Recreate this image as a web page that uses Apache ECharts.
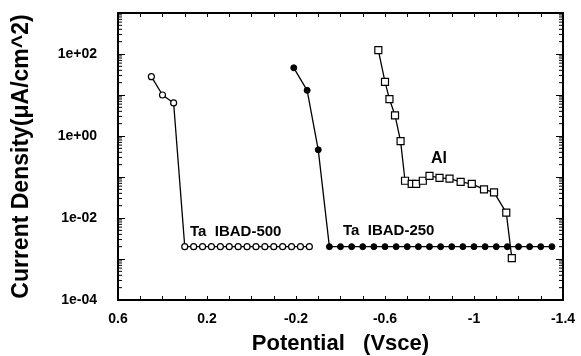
<!DOCTYPE html>
<html>
<head>
<meta charset="utf-8">
<script src="https://cdn.jsdelivr.net/npm/echarts@6/dist/echarts.min.js"></script>
<style>
  html, body { margin: 0; padding: 0; background: #fff; }
  #chart { width: 581px; height: 356px; }
</style>
</head>
<body>
<div id="chart"></div>
<script>
// Ta IBAD-500 (open circles)
var ta500Potential = [0.45, 0.40, 0.35, 0.30, 0.26, 0.22, 0.18, 0.14, 0.10, 0.06, 0.02, -0.02, -0.06, -0.10, -0.14, -0.18, -0.22, -0.26]
var ta500Current = [28, 10, 6.4, 0.002, 0.002, 0.002, 0.002, 0.002, 0.002, 0.002, 0.002, 0.002, 0.002, 0.002, 0.002, 0.002, 0.002, 0.002]

// Ta IBAD-250 (filled circles)
var ta250Potential = [-0.19, -0.25, -0.30, -0.35, -0.40, -0.45, -0.50, -0.55, -0.60, -0.65, -0.70, -0.75, -0.80, -0.85, -0.90, -0.95, -1.00, -1.05, -1.10, -1.15, -1.20, -1.25, -1.30, -1.35]
var ta250Current = [46, 13, 0.46, 0.002, 0.002, 0.002, 0.002, 0.002, 0.002, 0.002, 0.002, 0.002, 0.002, 0.002, 0.002, 0.002, 0.002, 0.002, 0.002, 0.002, 0.002, 0.002, 0.002, 0.002]

// Al (open squares)
var alPotential = [-0.57, -0.60, -0.62, -0.645, -0.67, -0.69, -0.72, -0.74, -0.77, -0.80, -0.845, -0.89, -0.94, -0.99, -1.045, -1.09, -1.145, -1.17]
var alCurrent = [125, 21, 7.9, 3.2, 0.75, 0.081, 0.068, 0.068, 0.081, 0.106, 0.095, 0.091, 0.076, 0.068, 0.050, 0.042, 0.0135, 0.00105]

// log axis minor tick positions (2..9 in each decade)
var minorMultipliers = [2, 3, 4, 5, 6, 7, 8, 9]
var decades = [1e-4, 1e-3, 1e-2, 1e-1, 1, 10, 100]

var FONT = '"Liberation Sans", Arial, Helvetica, sans-serif'

function pairs(xs, ys) {
  return xs.map(function (x, i) { return [x, ys[i]] })
}

var minorTicks = []
decades.forEach(function (d) {
  minorMultipliers.forEach(function (m) { minorTicks.push([0.6, d * m]) })
})

function yLabel(v) {
  var e = Math.round(Math.log10(v))
  if (e % 2 !== 0) return ''
  var a = Math.abs(e)
  return '1e' + (e < 0 ? '-' : '+') + (a < 10 ? '0' : '') + a
}

function xLabel(v) {
  var k = Math.round(v * 10)
  return (((k % 4) + 4) % 4 === 2) ? String(+v.toFixed(1)) : ''
}

var axisLineStyle = { show: true, onZero: false, lineStyle: { color: '#000', width: 2 } }

var xBase = {
  type: 'value',
  min: -1.4,
  max: 0.6,
  interval: 0.1,
  inverse: true,
  axisLine: axisLineStyle,
  axisTick: { show: true, inside: true, length: 4, lineStyle: { color: '#000', width: 1 } },
  splitLine: { show: false }
}

var yBase = {
  type: 'log',
  logBase: 10,
  min: 1e-4,
  max: 1e3,
  interval: 1,
  axisLine: axisLineStyle,
  axisTick: { show: true, inside: true, length: 7, lineStyle: { color: '#000', width: 1 } },
  splitLine: { show: false }
}

var option = {
  animation: false,
  backgroundColor: '#fff',
  grid: { left: 118, right: 18, top: 13, bottom: 56, containLabel: false, outerBoundsMode: 'none' },
  xAxis: [
    Object.assign({}, xBase, {
      position: 'bottom',
      name: 'Potential   (Vsce)',
      nameLocation: 'middle',
      nameGap: 33,
      nameTextStyle: { fontFamily: FONT, fontWeight: 'bold', fontSize: 22, color: '#000' },
      axisLabel: { formatter: xLabel, margin: 12, fontFamily: FONT, fontWeight: 'bold', fontSize: 14, color: '#000' }
    }),
    Object.assign({}, xBase, { position: 'top', axisLabel: { show: false } })
  ],
  yAxis: [
    Object.assign({}, yBase, {
      position: 'left',
      name: 'Current Density(\u03bcA/cm^2)',
      nameLocation: 'middle',
      nameGap: 85,
      nameTextStyle: { fontFamily: FONT, fontWeight: 'bold', fontSize: 23, color: '#000' },
      axisLabel: { formatter: yLabel, margin: 21, fontFamily: FONT, fontWeight: 'bold', fontSize: 14, color: '#000' }
    }),
    Object.assign({}, yBase, { position: 'right', axisLabel: { show: false } })
  ],
  series: [
    {
      name: 'Ta IBAD-500',
      type: 'line',
      data: pairs(ta500Potential, ta500Current),
      symbol: 'circle',
      symbolSize: 6,
      lineStyle: { color: '#000', width: 1.3 },
      itemStyle: { color: '#fff', borderColor: '#000', borderWidth: 1.2 }
    },
    {
      name: 'Ta IBAD-250',
      type: 'line',
      data: pairs(ta250Potential, ta250Current),
      symbol: 'circle',
      symbolSize: 6,
      lineStyle: { color: '#000', width: 1.3 },
      itemStyle: { color: '#000', borderColor: '#000', borderWidth: 1 }
    },
    {
      name: 'Al',
      type: 'line',
      data: pairs(alPotential, alCurrent),
      symbol: 'rect',
      symbolSize: 7,
      lineStyle: { color: '#000', width: 1.3 },
      itemStyle: { color: '#fff', borderColor: '#000', borderWidth: 1.2 }
    },
    {
      type: 'custom',
      silent: true,
      data: minorTicks,
      encode: { x: 0, y: 1 },
      renderItem: function (params, api) {
        var y = api.coord([0.6, api.value(1)])[1]
        var l = params.coordSys.x
        var r = l + params.coordSys.width
        return {
          type: 'group',
          children: [
            { type: 'line', shape: { x1: l, y1: y, x2: l + 4, y2: y }, style: { stroke: '#000', lineWidth: 1 } },
            { type: 'line', shape: { x1: r, y1: y, x2: r - 4, y2: y }, style: { stroke: '#000', lineWidth: 1 } }
          ]
        }
      }
    }
  ],
  graphic: [
    { type: 'text', left: 190, top: 224, style: { text: 'Ta  IBAD-500', font: 'bold 15px ' + FONT, fill: '#000' } },
    { type: 'text', left: 343, top: 223, style: { text: 'Ta  IBAD-250', font: 'bold 15px ' + FONT, fill: '#000' } },
    { type: 'text', left: 431, top: 151, style: { text: 'Al', font: 'bold 16px ' + FONT, fill: '#000' } }
  ]
}

var chartObj = echarts.init(document.getElementById('chart'))
chartObj.setOption(option)
</script>
</body>
</html>
